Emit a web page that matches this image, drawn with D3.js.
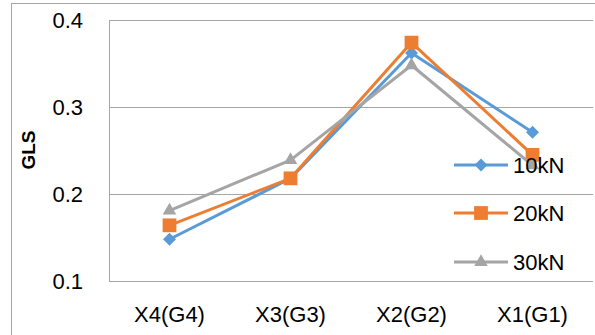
<!DOCTYPE html>
<html><head><meta charset="utf-8">
<script src="https://cdn.jsdelivr.net/npm/d3@7"></script>
<style>body{margin:0;background:#fff}svg{display:block}</style>
</head><body>
<script>
const categories = ["X4(G4)", "X3(G3)", "X2(G2)", "X1(G1)"];
const seriesNames = ["10kN", "20kN", "30kN"];
const s10 = [0.148, 0.218, 0.362, 0.271];
const s20 = [0.164, 0.218, 0.374, 0.245];
const s30 = [0.181, 0.239, 0.348, 0.233];
const yTicks = [0.1, 0.2, 0.3, 0.4];
const colors = ["#5B9BD5", "#ED7D31", "#A5A5A5"];
const symbols = [d3.symbolSquare, d3.symbolSquare, d3.symbolTriangle];
const rot = [45, 0, 0];
const symSize = [85, 190, 80];

const W = 595, H = 335;
const svg = d3.select("body").append("svg").attr("width", W).attr("height", H);
svg.append("rect").attr("x", 11.5).attr("y", 3.5).attr("width", W).attr("height", H)
  .attr("fill", "none").attr("stroke", "#A6A6A6");

const L = 109, R = 593, T = 20, B = 281;
const x = d3.scaleBand().domain(categories).range([L, R]);
const y = d3.scaleLinear().domain([0.1, 0.4]).range([B, T]);
const font = "'Liberation Sans', Arial, sans-serif";

svg.append("g").selectAll("line").data(yTicks).join("line")
  .attr("x1", L).attr("x2", R).attr("y1", d => Math.round(y(d)) + 0.5).attr("y2", d => Math.round(y(d)) + 0.5)
  .attr("stroke", "#A6A6A6").attr("stroke-width", 1);
svg.append("line").attr("x1", L + 0.5).attr("x2", L + 0.5).attr("y1", T).attr("y2", B)
  .attr("stroke", "#A6A6A6");

svg.append("g").selectAll("text").data(yTicks).join("text")
  .attr("x", 83).attr("y", d => y(d) + 8).attr("text-anchor", "end")
  .attr("font-family", font).attr("font-size", 22).text(d => d.toFixed(1));

svg.append("g").selectAll("text").data(categories).join("text")
  .attr("x", d => x(d) + x.bandwidth() / 2).attr("y", 322).attr("text-anchor", "middle")
  .attr("font-family", font).attr("font-size", 22).text(d => d);

svg.append("text").attr("transform", "translate(35,150) rotate(-90)").attr("text-anchor", "middle")
  .attr("font-family", font).attr("font-size", 19).attr("font-weight", "bold").text("GLS");

const data = [s10, s20, s30];
const line = d3.line().x((d, i) => x(categories[i]) + x.bandwidth() / 2).y(d => y(d));
data.forEach((s, k) => {
  svg.append("path").attr("d", line(s)).attr("fill", "none")
    .attr("stroke", colors[k]).attr("stroke-width", 3).attr("stroke-linejoin", "round");
  svg.append("g").selectAll("path").data(s).join("path")
    .attr("transform", (d, i) => `translate(${x(categories[i]) + x.bandwidth() / 2},${y(d)}) rotate(${rot[k]})`)
    .attr("d", d3.symbol().type(symbols[k]).size(symSize[k])).attr("fill", colors[k]);
});

const legY = [165, 213, 262];
seriesNames.forEach((n, k) => {
  const g = svg.append("g").attr("transform", `translate(0,${legY[k]})`);
  g.append("line").attr("x1", 454).attr("x2", 508).attr("y1", 0).attr("y2", 0)
    .attr("stroke", colors[k]).attr("stroke-width", 3);
  g.append("path").attr("transform", `translate(481,0) rotate(${rot[k]})`)
    .attr("d", d3.symbol().type(symbols[k]).size(symSize[k])).attr("fill", colors[k]);
  g.append("text").attr("x", 513).attr("y", 8).attr("font-family", font).attr("font-size", 22).text(n);
});
</script>
</body></html>
